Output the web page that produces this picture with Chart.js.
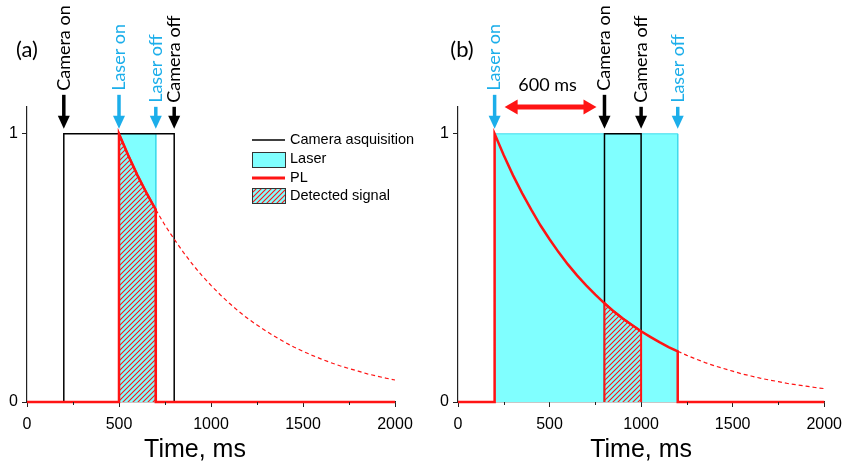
<!DOCTYPE html>
<html>
<head>
<meta charset="utf-8">
<script src="https://cdn.jsdelivr.net/npm/chart.js@4.4.1/dist/chart.umd.min.js"></script>
<style>
  body { margin: 0; background: #fff; overflow: hidden; }
  canvas { position: absolute; top: 0; }
  #panelA { left: 0; }
  #panelB { left: 425px; }
</style>
</head>
<body>
<canvas id="panelA" width="425" height="464"></canvas>
<canvas id="panelB" width="425" height="464"></canvas>
<script>
// ---- data ----
// PL decay after the laser switches on: delay (ms) and normalised intensity
const decayDelay = [0, 50, 100, 150, 200, 250, 300, 350, 400, 450, 500, 550, 600,
  650, 700, 750, 800, 850, 900, 950, 1000, 1050, 1100, 1150, 1200, 1250, 1300,
  1350, 1400, 1450, 1500, 1550, 1600, 1650, 1700, 1750, 1800];
const decayValue = [1.000, 0.920, 0.846, 0.779, 0.717, 0.659, 0.607, 0.558, 0.513,
  0.472, 0.435, 0.400, 0.368, 0.338, 0.311, 0.287, 0.264, 0.243, 0.223, 0.205,
  0.189, 0.174, 0.160, 0.147, 0.135, 0.125, 0.115, 0.105, 0.097, 0.089, 0.082,
  0.076, 0.069, 0.064, 0.059, 0.054, 0.050];

// switching times (ms), one entry per panel
const panelNames = ['(a)', '(b)'];
const laserOn = [500, 200];
const laserOff = [700, 1200];
const cameraOn = [200, 800];
const cameraOff = [800, 1000];

const xTicks = [0, 500, 1000, 1500, 2000];
const xMinorTicks = [250, 750, 1250, 1750];
const yTicks = [0, 1];
const xMax = 2000;

const BLUE = '#1caeea';
const RED = '#ff1414';
const CYAN = '#80ffff';

// ---- helpers ----
function curve(on, from, to) {
  const pts = [];
  decayDelay.forEach((d, k) => {
    const t = on + d;
    if (t >= from && t <= to) pts.push({ x: t, y: decayValue[k] });
  });
  return pts;
}

function hatchPattern(ctx) {
  const c = document.createElement('canvas');
  c.width = 5; c.height = 5;
  const g = c.getContext('2d');
  g.fillStyle = CYAN;
  g.fillRect(0, 0, 5, 5);
  g.strokeStyle = RED;
  g.lineWidth = 1.1;
  g.beginPath();
  g.moveTo(-1, 6); g.lineTo(6, -1);
  g.moveTo(-1, 1); g.lineTo(1, -1);
  g.moveTo(4, 6); g.lineTo(6, 4);
  g.stroke();
  return ctx.createPattern(c, 'repeat');
}

function downArrow(ctx, x, top, tip, color) {
  ctx.save();
  ctx.strokeStyle = color;
  ctx.fillStyle = color;
  ctx.lineWidth = 3.5;
  ctx.beginPath();
  ctx.moveTo(x, top);
  ctx.lineTo(x, tip - 10);
  ctx.stroke();
  ctx.beginPath();
  ctx.moveTo(x - 6, tip - 13);
  ctx.lineTo(x + 6, tip - 13);
  ctx.lineTo(x, tip);
  ctx.closePath();
  ctx.fill();
  ctx.restore();
}

// arrows + rotated labels above the plot, legend, panel letter, axis title
const decorations = {
  id: 'decorations',
  afterDraw(chart, args, opts) {
    const ctx = chart.ctx;
    const xs = chart.scales.x, ys = chart.scales.y;
    const tip = ys.getPixelForValue(1) - 5;

    // minor x ticks
    ctx.save();
    ctx.strokeStyle = '#222';
    ctx.lineWidth = 1;
    xMinorTicks.forEach(v => {
      const px = Math.round(xs.getPixelForValue(v)) + 0.5;
      ctx.beginPath();
      ctx.moveTo(px, xs.top);
      ctx.lineTo(px, xs.top + 3);
      ctx.stroke();
    });
    ctx.restore();

    opts.marks.forEach(m => {
      const x = xs.getPixelForValue(m.t);
      const top = m.short ? tip - 22 : tip - 34;
      downArrow(ctx, x, top, tip, m.color);
      ctx.save();
      ctx.translate(x, top - 4);
      ctx.rotate(-Math.PI / 2);
      ctx.font = '18px Lato';
      ctx.fillStyle = m.color;
      ctx.textAlign = 'left';
      ctx.textBaseline = 'middle';
      ctx.fillText(m.label, 0, 0);
      ctx.restore();
    });

    if (opts.span) {
      const x0 = xs.getPixelForValue(opts.span[0]) + 10;
      const x1 = xs.getPixelForValue(opts.span[1]) - 8;
      const y = ys.top;
      ctx.save();
      ctx.fillStyle = RED;
      ctx.strokeStyle = RED;
      ctx.lineWidth = 5;
      ctx.beginPath();
      ctx.moveTo(x0 + 10, y);
      ctx.lineTo(x1 - 10, y);
      ctx.stroke();
      ctx.beginPath();
      ctx.moveTo(x0, y); ctx.lineTo(x0 + 13, y - 7.5); ctx.lineTo(x0 + 13, y + 7.5);
      ctx.closePath(); ctx.fill();
      ctx.beginPath();
      ctx.moveTo(x1, y); ctx.lineTo(x1 - 13, y - 7.5); ctx.lineTo(x1 - 13, y + 7.5);
      ctx.closePath(); ctx.fill();
      ctx.font = '18px Lato';
      ctx.fillStyle = '#000';
      ctx.textAlign = 'center';
      ctx.textBaseline = 'middle';
      ctx.fillText(opts.spanLabel, (x0 + x1) / 2 - 3, y - 22);
      ctx.restore();
    }

    ctx.save();
    ctx.fillStyle = '#000';
    ctx.font = '22px Lato';
    ctx.textAlign = 'center';
    ctx.textBaseline = 'middle';
    ctx.fillText(opts.name, opts.nameX, 50);
    ctx.font = '25px "Liberation Sans"';
    ctx.fillText('Time, ms', (xs.left + xs.right) / 2 + opts.titleShift, 450);
    ctx.restore();

    if (opts.legend) {
      const lx = 252, lw = 33, tx = 290;
      ctx.save();
      ctx.font = '14.5px "Liberation Sans"';
      ctx.fillStyle = '#000';
      ctx.textBaseline = 'middle';
      // camera line
      ctx.strokeStyle = '#000'; ctx.lineWidth = 1.5;
      ctx.beginPath(); ctx.moveTo(lx, 140); ctx.lineTo(lx + lw, 140); ctx.stroke();
      ctx.fillText('Camera asquisition', tx, 140);
      // laser box
      ctx.fillStyle = CYAN; ctx.fillRect(lx, 152, lw, 16);
      ctx.strokeStyle = '#333'; ctx.lineWidth = 1;
      ctx.strokeRect(lx + 0.5, 152.5, lw, 15);
      ctx.fillStyle = '#000'; ctx.fillText('Laser', tx, 159);
      // PL line
      ctx.strokeStyle = RED; ctx.lineWidth = 3;
      ctx.beginPath(); ctx.moveTo(lx, 178); ctx.lineTo(lx + lw, 178); ctx.stroke();
      ctx.fillText('PL', tx, 178);
      // detected signal box
      ctx.fillStyle = opts.pattern; ctx.fillRect(lx, 188, lw, 16);
      ctx.strokeStyle = '#333'; ctx.lineWidth = 1;
      ctx.strokeRect(lx + 0.5, 188.5, lw, 15);
      ctx.fillStyle = '#000'; ctx.fillText('Detected signal', tx, 196);
      ctx.restore();
    }
  }
};

function makePanel(i, canvasId, yWidth, rightPad, extra) {
  const ctx = document.getElementById(canvasId).getContext('2d');
  const pattern = hatchPattern(ctx);
  const on = laserOn[i], off = laserOff[i];
  const h0 = Math.max(on, cameraOn[i]), h1 = Math.min(off, cameraOff[i]);
  const hatchCurve = curve(on, h0, h1);

  const datasets = [
    { // PL, solid while the laser is on
      data: [{ x: 0, y: 0 }, { x: on, y: 0 }, ...curve(on, on, off), { x: off, y: 0 }, { x: xMax, y: 0 }],
      borderColor: RED, borderWidth: 2.5, fill: false, order: 1
    },
    { // PL decay after laser off
      data: curve(on, off, xMax),
      borderColor: RED, borderWidth: 1.2, borderDash: [4, 3], fill: false, order: 2
    },
    { // detected signal
      data: [{ x: h0, y: 0 }, ...hatchCurve, { x: h1, y: 0 }],
      borderColor: RED, borderWidth: 2, backgroundColor: pattern, fill: 'origin', order: 3
    },
    { // camera acquisition window
      data: [{ x: cameraOn[i], y: 0 }, { x: cameraOn[i], y: 1 }, { x: cameraOff[i], y: 1 }, { x: cameraOff[i], y: 0 }],
      borderColor: '#000', borderWidth: 1.5, fill: false, order: 4
    },
    { // laser on
      data: [{ x: on, y: 0 }, { x: on, y: 1 }, { x: off, y: 1 }, { x: off, y: 0 }],
      borderColor: '#3fdcec', borderWidth: 1, backgroundColor: CYAN, fill: 'origin', order: 5
    }
  ];
  datasets.forEach(d => { d.clip = false; d.pointRadius = 0; d.tension = 0; });

  return new Chart(ctx, {
    type: 'line',
    data: { datasets },
    options: {
      responsive: false,
      animation: false,
      layout: { padding: { top: 107, right: rightPad, left: 0, bottom: 0 } },
      plugins: {
        legend: { display: false },
        tooltip: { enabled: false },
        decorations: Object.assign({ name: panelNames[i], pattern }, extra)
      },
      scales: {
        x: {
          type: 'linear', min: 0, max: xMax,
          afterBuildTicks: s => { s.ticks = xTicks.map(v => ({ value: v })); },
          afterFit: s => { s.height = 62; },
          grid: { drawOnChartArea: false, tickLength: 5, color: '#222' },
          border: { color: '#222', width: 1.2 },
          ticks: {
            color: '#000', padding: 8, maxRotation: 0,
            font: { family: 'Liberation Sans', size: 16 },
            callback: v => String(v)
          }
        },
        y: {
          min: 0, max: 1.1,
          afterBuildTicks: s => { s.ticks = yTicks.map(v => ({ value: v })); },
          afterFit: s => { s.width = yWidth; },
          grid: { drawOnChartArea: false, tickLength: 5, color: '#222' },
          border: { color: '#222', width: 1.2 },
          ticks: {
            color: '#000', padding: 4,
            font: { family: 'Liberation Sans', size: 16 },
            callback: v => String(v)
          }
        }
      }
    },
    plugins: [decorations]
  });
}

makePanel(0, 'panelA', 27, 30, {
  nameX: 27, titleShift: -16, legend: true,
  marks: [
    { t: cameraOn[0], label: 'Camera on', color: '#000', short: false },
    { t: laserOn[0], label: 'Laser on', color: BLUE, short: false },
    { t: laserOff[0], label: 'Laser off', color: BLUE, short: true },
    { t: cameraOff[0], label: 'Camera off', color: '#000', short: true }
  ]
});

makePanel(1, 'panelB', 33, 24, {
  nameX: 37, titleShift: 0, legend: false,
  span: [laserOn[1], cameraOn[1]], spanLabel: (cameraOn[1] - laserOn[1]) + ' ms',
  marks: [
    { t: laserOn[1], label: 'Laser on', color: BLUE, short: false },
    { t: cameraOn[1], label: 'Camera on', color: '#000', short: false },
    { t: cameraOff[1], label: 'Camera off', color: '#000', short: true },
    { t: laserOff[1], label: 'Laser off', color: BLUE, short: true }
  ]
});
</script>
</body>
</html>
